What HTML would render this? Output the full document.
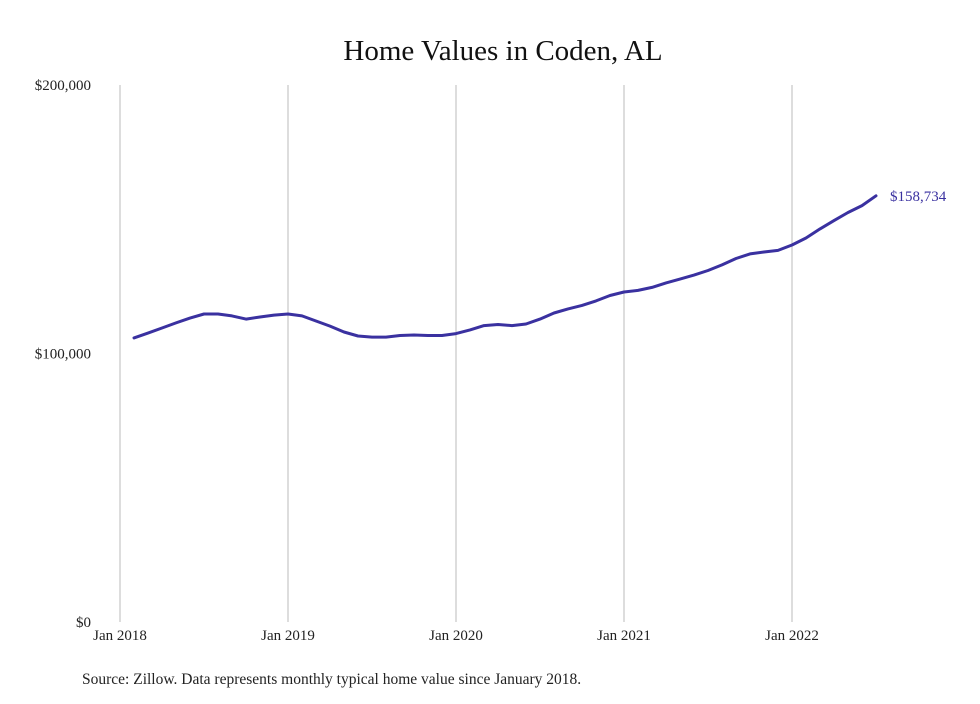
<!DOCTYPE html>
<html><head><meta charset="utf-8"><style>
body{margin:0;background:#fff;width:980px;height:699px;overflow:hidden;font-family:"Liberation Serif",serif;}
</style></head><body>
<svg width="980" height="699" id="chart">
<text x="503" y="60" text-anchor="middle" font-size="29" fill="#111">Home Values in Coden, AL</text>
<text x="82" y="684" font-size="15.5" fill="#222">Source: Zillow. Data represents monthly typical home value since January 2018.</text>
<g id="grid"></g><g id="ylab"></g><g id="xlab"></g><g id="series"></g>
</svg>
<script>
const yTicks=[0,100000,200000];
const yTickLabels=["$0","$100,000","$200,000"];
const xTickYears=[2018,2019,2020,2021,2022];
const xTickLabels=["Jan 2018","Jan 2019","Jan 2020","Jan 2021","Jan 2022"];
const startMonth=1; // Feb 2018 (months since Jan 2018)
const values=[105.8,107.6,109.5,111.4,113.2,114.7,114.7,114,112.8,113.6,114.3,114.7,114,112.1,110.2,108,106.5,106.1,106.1,106.7,106.9,106.7,106.7,107.4,108.8,110.4,110.8,110.4,111,112.8,115.1,116.6,117.9,119.6,121.6,122.9,123.5,124.6,126.3,127.7,129.2,130.9,133,135.4,137.1,137.8,138.4,140.4,143,146.4,149.5,152.5,155.1,158.734].map(v=>v*1000);
const lastLabel="$158,734";
const NS="http://www.w3.org/2000/svg";
const X=m=>120+m*14;
const Y=v=>622-v*(537/200000);
function mk(t,a,p){const e=document.createElementNS(NS,t);for(const k in a)e.setAttribute(k,a[k]);p.appendChild(e);return e;}
const grid=document.getElementById('grid'),ylab=document.getElementById('ylab'),xlab=document.getElementById('xlab'),ser=document.getElementById('series');
xTickYears.forEach((yr,i)=>{const x=X((yr-2018)*12);
const l=mk('line',{x1:x,x2:x,y1:85,y2:622,stroke:'#bbb','stroke-width':1},grid);


const t=mk('text',{x:x,y:640,'text-anchor':'middle','font-size':15,fill:'#222'},xlab);t.textContent=xTickLabels[i];

});
yTicks.forEach((v,i)=>{const t=mk('text',{x:91,y:Y(v)+5,'text-anchor':'end','font-size':15,fill:'#222'},ylab);t.textContent=yTickLabels[i];

});
const pts=values.map((v,i)=>X(startMonth+i).toFixed(1)+','+Y(v).toFixed(1)).join(' ');
const pl=mk('polyline',{points:pts,fill:'none',stroke:'#3a31a0','stroke-width':3,'stroke-linejoin':'round','stroke-linecap':'round'},ser);


const li=values.length-1;
const lt=mk('text',{x:X(startMonth+li)+14,y:Y(values[li])+5,'font-size':15,fill:'#3a31a0'},ser);lt.textContent=lastLabel;


</script>
</body></html>
